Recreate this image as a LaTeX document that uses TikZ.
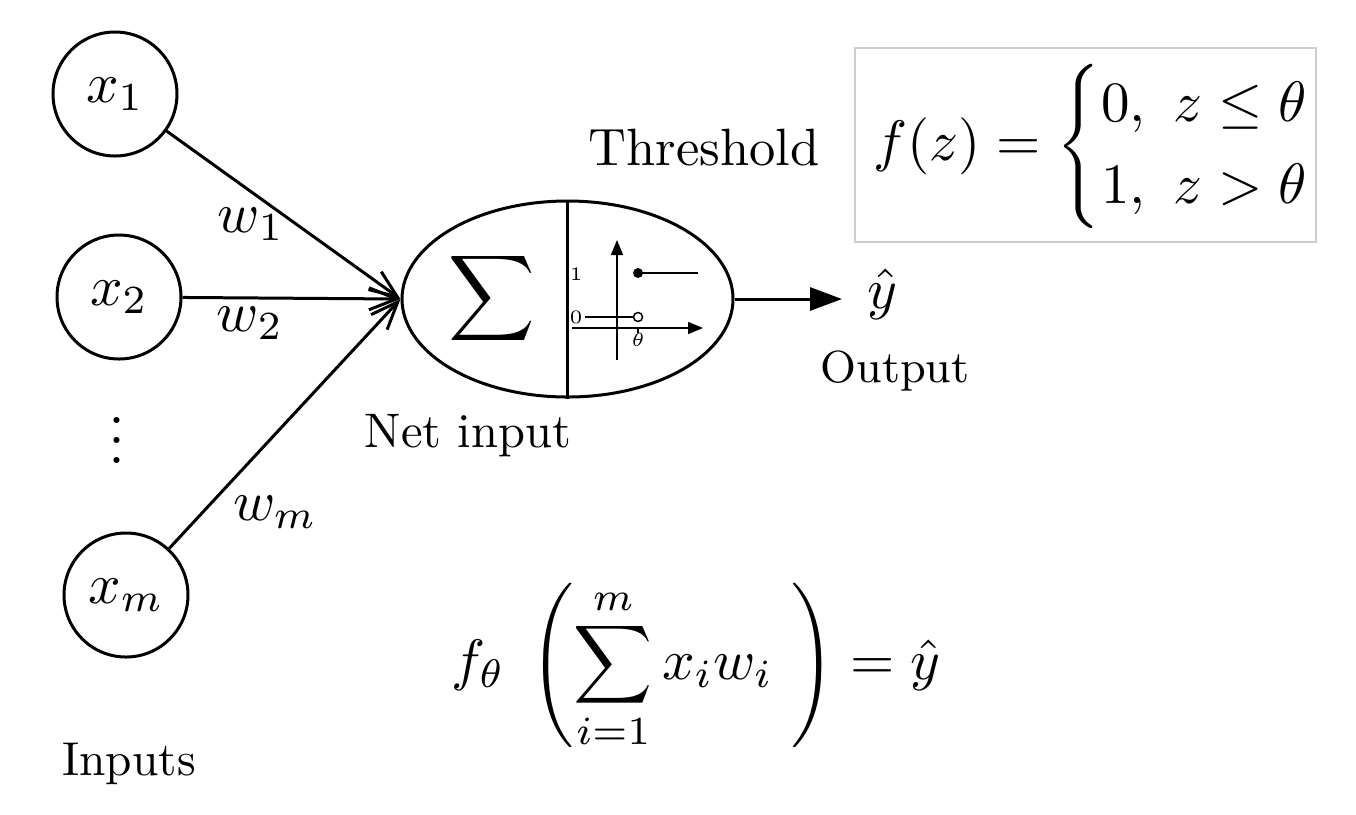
\RequirePackage{fix-cm}
\documentclass[tikz,border=0pt]{standalone}
\usepackage{amsmath}
\usetikzlibrary{arrows.meta,shapes.geometric}
\newcommand{\fsMath}{\fontsize{11.4}{14}\selectfont}
\newcommand{\fsCases}{\fontsize{11.4}{13.8}\selectfont}
\newcommand{\fsSum}{\fontsize{12}{14}\selectfont}
\newcommand{\fsThr}{\fontsize{10.5}{12}\selectfont}
\newcommand{\fsOut}{\fontsize{9}{11}\selectfont}
\newcommand{\fsNet}{\fontsize{9.7}{11}\selectfont}
\newcommand{\fsIn}{\fontsize{9.5}{11}\selectfont}
\newcommand{\fsTiny}{\fontsize{3.8}{4.5}\selectfont}
\definecolor{boxgray}{RGB}{205,205,205}
\tikzset{
  neuron/.style={circle,draw,line width=0.6pt,minimum size=24.8pt,inner sep=0pt,font=\fsMath},
  wlabel/.style={inner sep=0pt,font=\fsMath},
  inarrow/.style={line width=0.6pt,-{Straight Barb[length=5.5pt,width=4.4pt]}},
  outarrow/.style={line width=0.6pt,-{Triangle[length=6.4pt,width=4.6pt]}},
  thin axis/.style={line width=0.3pt,-{Triangle[length=3pt,width=2.4pt]}},
  thinline/.style={line width=0.3pt},
  tinylabel/.style={inner sep=0pt,font=\fsTiny},
}
\begin{document}
\begin{tikzpicture}[x=0.2pt,y=-0.2pt,line width=0.6pt]
\useasboundingbox (0,0) rectangle (1356,814);
% input neurons
\node[neuron] (x1) at (115,94) {$x_1$};
\node[neuron] (x2) at (119,297) {$x_2$};
\node[neuron] (xm) at (126,595) {$x_m$};
\node[inner sep=0pt,font=\fontsize{12.5}{15}\selectfont] (dots) at (117,425) {$\vdots$};
% central unit
\node[ellipse,draw,line width=0.6pt,minimum width=66.2pt,minimum height=39.2pt,inner sep=0pt] (ell) at (567.5,299) {};
\draw (ell.north) -- (ell.south);
\node[inner sep=0pt,font=\fsSum] (sig) at (492,298) {$\displaystyle\sum$};
% step function
\draw[thin axis] (617,360) -- (617,240);
\draw[thin axis] (572,328) -- (703,328);
\draw[thinline] (638,273) -- (698,273);
\fill (638,273) circle[radius=1pt];
\draw[thinline] (585,317) -- (633.5,317);
\draw[thinline,fill=white] (638,317) circle[radius=0.9pt];
\draw[thinline] (638,328) -- (638,333);
\node[tinylabel] (l1) at (576,274) {1};
\node[tinylabel] (l0) at (576,317) {0};
\node[tinylabel] (lth) at (638,340) {$\theta$};
% connectors
\draw[inarrow] (x1) -- (ell.west);
\draw[inarrow] (x2) -- (ell.west);
\draw[inarrow] (xm) -- (ell.west);
\node[wlabel] (w1) at (251,224) {$w_1$};
\node[wlabel] (w2) at (250,323) {$w_2$};
\node[wlabel] (wm) at (275,512) {$w_m$};
% output
\node[inner sep=0pt,font=\fsMath,anchor=west] (yhat) at (866,294) {$\hat{y}$};
\coordinate (ytip) at (842,299);
\draw[outarrow] (ell.east) -- (ytip);
% labels
\node[font=\fsThr,anchor=base,inner sep=0pt] (thr) at (704,165) {Threshold};
\node[font=\fsOut,anchor=base,inner sep=0pt] (out) at (895,382) {Output};
\node[font=\fsNet,anchor=base,inner sep=0pt] (net) at (468,447) {Net input};
\node[font=\fsIn,anchor=base,inner sep=0pt] (inp) at (129,775) {Inputs};
% threshold formula box
\node[draw=boxgray,line width=0.3pt,minimum width=92.2pt,minimum height=38.8pt,inner sep=0pt] (fzbox) at (1085.5,145) {};
\node[inner sep=0pt,font=\fsCases,anchor=west] (fz) at (872,146)
  {$f(z)=\begin{cases}0,\ z\le\theta\\ 1,\ z>\theta\end{cases}$};
% bottom formula
\node[inner sep=0pt,font=\fsMath,anchor=west] (formula) at (450,665)
  {$\displaystyle f_\theta\;\,\Biggl(\sum_{i=1}^{m} x_i w_i\ \Biggr) = \hat{y}$};
\end{tikzpicture}
\end{document}
